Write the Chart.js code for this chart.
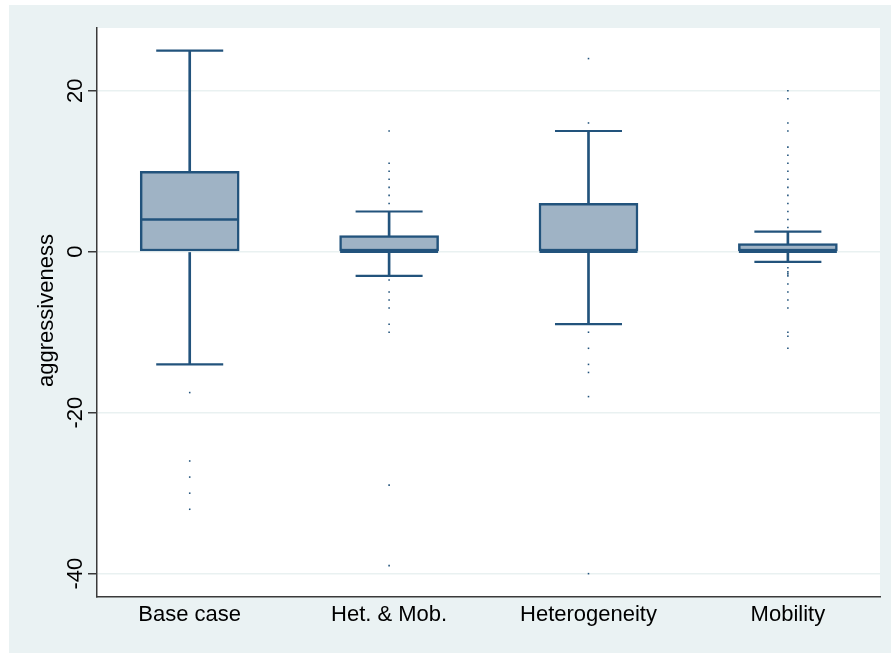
<!DOCTYPE html>
<html>
<head>
<meta charset="utf-8">
<script src="https://cdn.jsdelivr.net/npm/chart.js@4/dist/chart.umd.min.js"></script>
<style>
  body { margin: 0; background: #fff; }
  canvas { display: block; }
</style>
</head>
<body>
<canvas id="boxChart" width="891" height="653"></canvas>
<script>
// box plot data
const categories = ['Base case', 'Het. & Mob.', 'Heterogeneity', 'Mobility'];
const whiskerLow = [-14, -3, -9, -1.25];
const q1 = [0, 0, 0, 0];
const median = [4, 0, 0, 0];
const q3 = [10, 2, 6, 1];
const whiskerHigh = [25, 5, 15, 2.5];

const outBase = [-17.5, -26, -28, -30, -32];
const outHetMob = [15, 11, 10, 9, 8, 7, 6, -3.5, -5, -6, -7, -9, -10, -29, -39];
const outHet = [24, 16, -10, -12, -14, -15, -18, -40];
const outMob = [20, 19, 16, 15, 13, 12, 11, 10, 9, 8, 7, 6, 5, 4, 3,
  -2, -2.5, -2.75, -3, -4, -5, -6, -7, -10, -10.5, -12];
const outliers = [outBase, outHetMob, outHet, outMob];

const yTicks = [-40, -20, 0, 20];
const yTitle = 'aggressiveness';

const navy = '#22537c';
const boxFill = 'rgb(159,179,197)';
const FONT = '"Liberation Sans", Arial, Helvetica, sans-serif';

const pos = categories.map((c, i) => i + 1);

const outlierPoints = [];
outliers.forEach((arr, i) => arr.forEach(v => outlierPoints.push({ x: pos[i], y: v })));

// background + plot area fill
const bgPlugin = {
  id: 'bg',
  beforeDraw(chart) {
    const { ctx, chartArea: a } = chart;
    ctx.save();
    ctx.fillStyle = '#fff';
    ctx.fillRect(0, 0, chart.width, chart.height);
    ctx.fillStyle = '#eaf2f3';
    ctx.fillRect(9, 5, chart.width - 9, chart.height - 5);
    ctx.fillStyle = '#fff';
    ctx.fillRect(a.left, a.top, a.right - a.left, a.bottom - a.top);
    ctx.restore();
  }
};

// rotated y tick labels and axis title
const yLabels = {
  id: 'yLabels',
  afterDraw(chart) {
    const { ctx, scales: { y } } = chart;
    ctx.save();
    ctx.fillStyle = '#000';
    ctx.textAlign = 'center';
    ctx.textBaseline = 'alphabetic';
    ctx.font = '22px ' + FONT;
    yTicks.forEach(v => {
      ctx.save();
      ctx.translate(82, y.getPixelForValue(v));
      ctx.rotate(-Math.PI / 2);
      ctx.fillText(String(v), 0, 0);
      ctx.restore();
    });
    ctx.translate(53, (y.top + y.bottom) / 2 - 2);
    ctx.rotate(-Math.PI / 2);
    ctx.fillText(yTitle, 0, 0);
    ctx.restore();
  }
};

new Chart(document.getElementById('boxChart'), {
  data: {
    datasets: [
      {
        type: 'bar',
        label: 'upper whisker',
        data: pos.map((x, i) => ({ x: x, y: [q3[i], whiskerHigh[i]] })),
        backgroundColor: navy,
        barThickness: 2,
        grouped: false,
        order: 5
      },
      {
        type: 'bar',
        label: 'lower whisker',
        data: pos.map((x, i) => ({ x: x, y: [whiskerLow[i], q1[i]] })),
        backgroundColor: navy,
        barThickness: 2,
        grouped: false,
        order: 5
      },
      {
        type: 'bar',
        label: 'box',
        data: pos.map((x, i) => ({ x: x, y: [q1[i], q3[i]] })),
        backgroundColor: boxFill,
        borderColor: navy,
        borderWidth: 2.5,
        borderSkipped: false,
        barThickness: 99,
        grouped: false,
        order: 4
      },
      {
        type: 'scatter',
        label: 'median',
        data: pos.map((x, i) => ({ x: x, y: median[i] })),
        pointStyle: 'line',
        pointRadius: 49,
        borderColor: navy,
        borderWidth: 2.5,
        order: 3
      },
      {
        type: 'scatter',
        label: 'caps',
        data: pos.map((x, i) => ({ x: x, y: whiskerHigh[i] }))
          .concat(pos.map((x, i) => ({ x: x, y: whiskerLow[i] }))),
        pointStyle: 'line',
        pointRadius: 33.5,
        borderColor: navy,
        borderWidth: 2.2,
        order: 2
      },
      {
        type: 'scatter',
        label: 'outside values',
        data: outlierPoints,
        pointStyle: 'rect',
        pointRadius: 1.1,
        backgroundColor: navy,
        borderWidth: 0,
        order: 1
      }
    ]
  },
  options: {
    responsive: false,
    animation: false,
    events: [],
    layout: { autoPadding: false, padding: { left: 0, top: 28, right: 11, bottom: 0 } },
    plugins: {
      legend: { display: false },
      tooltip: { enabled: false }
    },
    scales: {
      x: {
        type: 'linear',
        min: 0.535,
        max: 4.462,
        offset: false,
        grid: { display: false, drawTicks: false },
        border: { display: true, color: '#3a3a3a', width: 1.5 },
        afterBuildTicks: s => { s.ticks = pos.map(v => ({ value: v })); },
        afterFit: s => { s.height = 56; },
        ticks: {
          padding: 5,
          color: '#000',
          font: { family: FONT, size: 22 },
          maxRotation: 0,
          callback: v => categories[v - 1]
        }
      },
      y: {
        type: 'linear',
        min: -42.9,
        max: 27.8,
        afterBuildTicks: s => { s.ticks = yTicks.map(v => ({ value: v })); },
        afterFit: s => { s.width = 97; },
        grid: {
          color: '#e9f1f1',
          lineWidth: 1.5,
          tickColor: '#3a3a3a',
          tickLength: 9,
          tickWidth: 1.5
        },
        border: { display: true, color: '#3a3a3a', width: 1.5 },
        ticks: { display: false }
      }
    }
  },
  plugins: [bgPlugin, yLabels]
});
</script>
</body>
</html>
